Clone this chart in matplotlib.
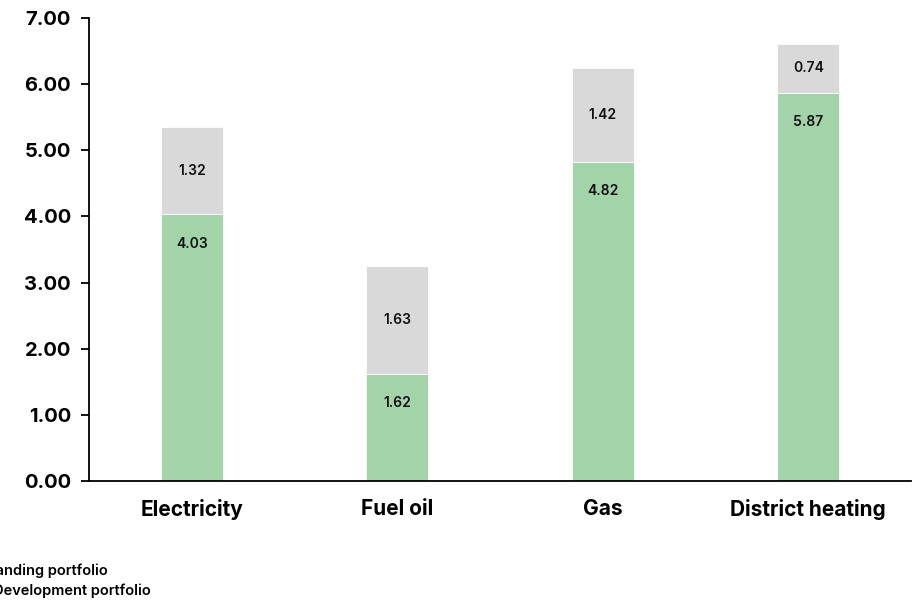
import matplotlib.pyplot as plt

# data
categories = ["Electricity", "Fuel oil", "Gas", "District heating"]
standing = [4.03, 1.62, 4.82, 5.87]
development = [1.32, 1.63, 1.42, 0.74]
series_names = ["Standing portfolio", "Development portfolio"]
y_ticks = [0, 1, 2, 3, 4, 5, 6, 7]

GREEN = "#a3d3a9"
GREY = "#d9d9d9"

plt.rcParams["font.family"] = ["Inter", "DejaVu Sans"]

fig = plt.figure(figsize=(9.13, 6.03), dpi=100)
ax = fig.add_axes([89 / 913, 1 - 481 / 603, (911 - 89) / 913, (481 - 18) / 603])

x = list(range(len(categories)))
w = 0.3
ax.bar(x, standing, width=w, color=GREEN, edgecolor="white", linewidth=0.6)
ax.bar(x, development, width=w, bottom=standing, color=GREY, edgecolor="white", linewidth=0.6)

for i in x:
    ax.annotate(f"{standing[i]:.2f}", (i, standing[i]), xytext=(0, -21),
                textcoords="offset points", ha="center", va="center",
                fontsize=10, fontweight="semibold", color="#111111")
    ax.text(i, standing[i] + development[i] / 2, f"{development[i]:.2f}",
            ha="center", va="center", fontsize=10, fontweight="semibold", color="#111111")

ax.set_xlim(-0.5, 3.5)
ax.set_ylim(0, 7)
ax.set_yticks(y_ticks)
ax.set_yticklabels([f"{v:.2f}" for v in y_ticks], fontsize=14.5, fontweight="bold")
ax.set_xticks(x)
ax.set_xticklabels(categories, fontsize=15, fontweight="bold")
ax.tick_params(axis="x", length=0, pad=13)
ax.tick_params(axis="y", length=6, width=1.3, pad=7)

for s in ["top", "right"]:
    ax.spines[s].set_visible(False)
ax.spines["left"].set_linewidth(1.3)
ax.spines["bottom"].set_linewidth(1.3)

# legend text, cut off at the left edge like the source
fig.text(108 / 913, 1 - 571 / 603, series_names[0], ha="right", va="center",
         fontsize=10.5, fontweight="semibold")
fig.text(151 / 913, 1 - 591 / 603, series_names[1], ha="right", va="center",
         fontsize=10.5, fontweight="semibold")

fig.savefig("out.png", dpi=100)
